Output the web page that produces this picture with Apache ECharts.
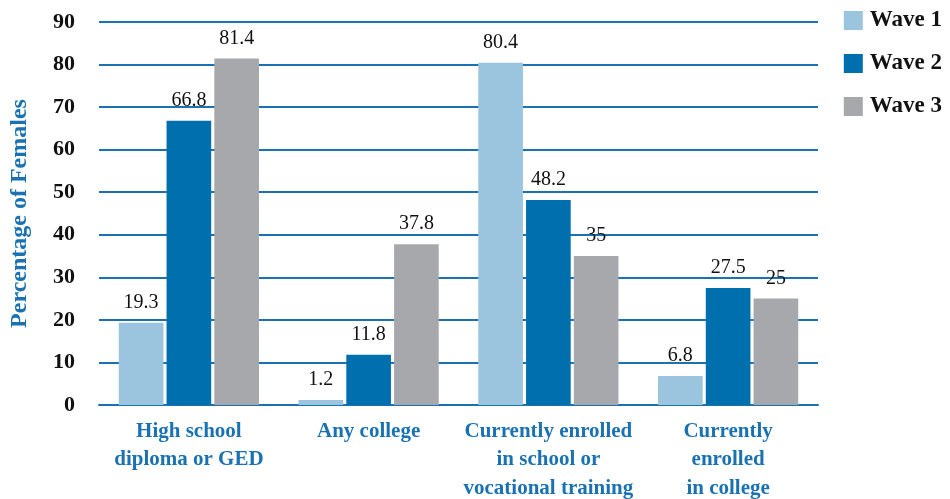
<!DOCTYPE html>
<html><head><meta charset="utf-8">
<script src="https://cdn.jsdelivr.net/npm/echarts@6/dist/echarts.min.js"></script>
<style>html,body{margin:0;padding:0;background:#fff}#c{width:950px;height:499px}</style>
</head><body><div id="c"></div>
<script>
const categories = ["High school\ndiploma or GED", "Any college", "Currently enrolled\nin school or\nvocational training", "Currently\nenrolled\nin college"];
const wave1 = [19.3, 1.2, 80.4, 6.8];
const wave2 = [66.8, 11.8, 48.2, 27.5];
const wave3 = [81.4, 37.8, 35, 25];
const seriesNames = ["Wave 1", "Wave 2", "Wave 3"];
const colors = ["#9bc4de", "#006fae", "#a7a8ab"];
const font = "Liberation Serif";
const chart = echarts.init(document.getElementById('c'));
const lbl = {show: true, position: 'top', distance: 10, color: '#111', fontFamily: font, fontSize: 20};
chart.setOption({
  animation: false,
  grid: {left: 99, right: 132, top: 22, bottom: 94, outerBoundsMode: 'none', containLabel: false},
  legend: {
    orient: 'vertical', right: 8, top: 9, padding: 0, itemWidth: 19, itemHeight: 19, itemGap: 20,
    icon: 'rect',
    textStyle: {fontFamily: font, fontSize: 23, fontWeight: 'bold', color: '#111', padding: [0,0,0,2]},
    data: seriesNames
  },
  xAxis: {
    type: 'category', data: categories,
    axisLine: {lineStyle: {color: '#1a72b3', width: 2}},
    axisTick: {show: false},
    axisLabel: {fontFamily: font, fontSize: 21, fontWeight: 'bold', color: '#1a72b3', lineHeight: 28.5, margin: 12, interval: 0}
  },
  yAxis: {
    type: 'value', min: 0, max: 90, interval: 10,
    name: 'Percentage of Females', nameLocation: 'middle', nameGap: 67,
    nameTextStyle: {fontFamily: font, fontSize: 24, fontWeight: 'bold', color: '#1a72b3'},
    axisLine: {show: false}, axisTick: {show: false},
    axisLabel: {fontFamily: font, fontSize: 22, fontWeight: 'bold', color: '#111', margin: 24},
    splitLine: {lineStyle: {color: '#1a72b3', width: 2}}
  },
  series: [wave1, wave2, wave3].map((d, i) => ({
    name: seriesNames[i], type: 'bar', data: d,
    itemStyle: {color: colors[i]},
    barGap: '7%', barCategoryGap: '22%',
    label: lbl
  }))
});
</script></body></html>
